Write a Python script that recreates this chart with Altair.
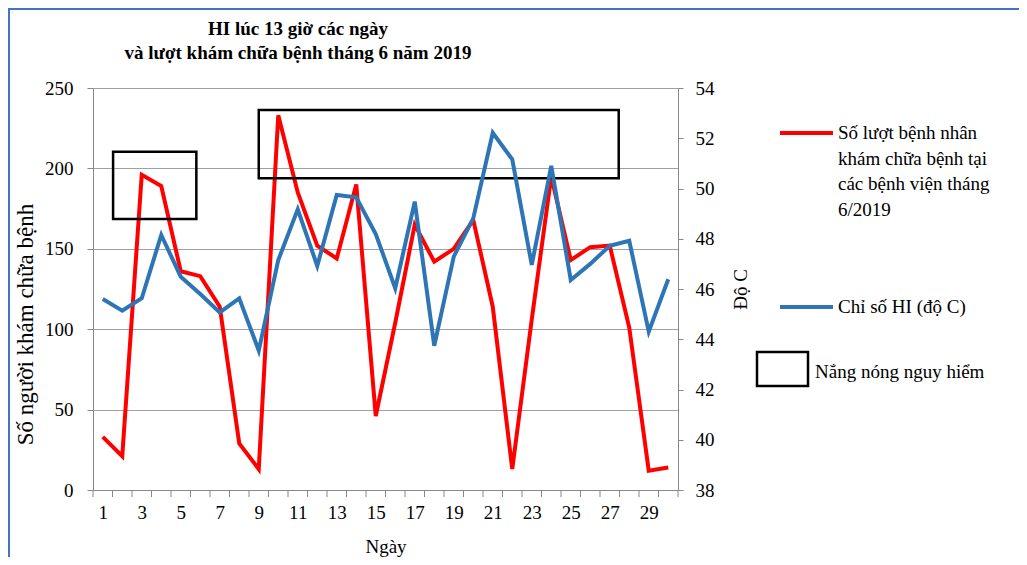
import altair as alt
import pandas as pd

# ---------------- data ----------------
days = list(range(1, 31))
patients = [33, 21, 196, 189, 136, 133, 114, 29, 13, 233, 185, 152, 144, 190, 46,
            104, 165, 142, 150, 168, 114, 13, 106, 195, 143, 151, 152, 101, 12, 14]
hi_index = [45.6, 45.14, 45.63, 48.15, 46.49, 45.8, 45.07, 45.63, 43.55, 47.15,
            49.17, 46.92, 49.74, 49.65, 48.19, 46.03, 49.48, 43.74, 47.29, 48.81,
            52.22, 51.16, 46.96, 50.9, 46.36, 47.0, 47.72, 47.92, 44.3, 46.39]

# "Nắng nóng nguy hiểm" boxes (day units / patient-axis units)
box_day_start = [1.53, 9.0]
box_day_end = [5.8, 27.46]
box_low = [168.5, 193.8]
box_high = [210.4, 236.3]

left_ticks = [0, 50, 100, 150, 200, 250]
right_ticks = [38, 40, 42, 44, 46, 48, 50, 52, 54]
x_label_days = [d for d in days if d % 2 == 1]
x_category_bounds = [k + 0.5 for k in range(31)]

title_lines = ["HI lúc 13 giờ các ngày", "và lượt khám chữa bệnh tháng 6 năm 2019"]
series_red = ["Số lượt bệnh nhân", "khám chữa bệnh tại", "các bệnh viện tháng", "6/2019"]
series_blue = "Chỉ số HI (độ C)"
box_label = "Nắng nóng nguy hiểm"

FONT = "Liberation Serif"
W, H = 585, 402

df = pd.DataFrame({"day": days, "patients": patients, "hi": hi_index})
boxes = pd.DataFrame({"x1": box_day_start, "x2": box_day_end, "y1": box_low, "y2": box_high})
bounds = pd.DataFrame({"b": x_category_bounds})
one = pd.DataFrame({"a": [0]})

xscale = alt.Scale(domain=[0.5, 30.5], nice=False, zero=False)
xaxis = alt.Axis(
    values=x_label_days, title="Ngày", grid=False, format="d", ticks=False,
    domainColor="#888888", labelOverlap=False, labelFlush=False, labelPadding=13,
    labelFont=FONT, labelFontSize=19, labelColor="black",
    titleFont=FONT, titleFontSize=19, titleFontWeight="normal", titleColor="black",
    titlePadding=15,
)

left_axis = alt.Axis(
    values=left_ticks, title="Số người khám chữa bệnh", grid=True,
    gridColor="#a0a0a0", gridWidth=1.2, domainColor="#888888", tickColor="#888888",
    tickSize=6, labelPadding=14, labelFont=FONT, labelFontSize=19, labelColor="black",
    titleFont=FONT, titleFontSize=23, titleFontWeight="normal", titleColor="black",
    titleX=-56, titleY=236,
)
yleft = alt.Scale(domain=[0, 250], nice=False)

right_axis = alt.Axis(
    values=right_ticks, title="Độ C", orient="right", grid=False,
    domainColor="#888888", tickColor="#888888", tickSize=5, labelPadding=12,
    labelFont=FONT, labelFontSize=19, labelColor="black",
    titleFont=FONT, titleFontSize=19, titleFontWeight="normal", titleColor="black",
    titleAngle=270, titleX=72, titleY=201,
)
yright = alt.Scale(domain=[38, 54], nice=False, zero=False)

red = alt.Chart(df).mark_line(color="#ff0000", strokeWidth=4).encode(
    x=alt.X("day:Q", scale=xscale, axis=xaxis),
    y=alt.Y("patients:Q", scale=yleft, axis=left_axis),
)

box_layer = alt.Chart(boxes).mark_rect(fill=None, fillOpacity=0, stroke="black", strokeWidth=2.5).encode(
    x=alt.X("x1:Q", scale=xscale, axis=xaxis),
    x2="x2:Q",
    y=alt.Y("y1:Q", scale=yleft, axis=left_axis),
    y2="y2:Q",
)

# category boundary tick marks under the x axis
x_ticks = alt.Chart(bounds).mark_rule(color="#888888", strokeWidth=1).encode(
    x=alt.X("b:Q", scale=xscale, axis=xaxis),
    y=alt.value(H), y2=alt.value(H + 7),
)

blue = alt.Chart(df).mark_line(color="#2e75b6", strokeWidth=4).encode(
    x=alt.X("day:Q", scale=xscale, axis=xaxis),
    y=alt.Y("hi:Q", scale=yright, axis=right_axis),
)

# chart title (two bold lines)
title_text = alt.Chart(one).mark_text(
    align="center", baseline="middle", font=FONT, fontSize=19, fontWeight="bold",
    lineHeight=24, color="black"
).encode(x=alt.value(205), y=alt.value(-59), text=alt.value(title_lines))

# legend (drawn as marks to the right of the plot)
leg_red_line = alt.Chart(one).mark_rule(color="#ff0000", strokeWidth=4).encode(
    x=alt.value(687), x2=alt.value(740), y=alt.value(45))
leg_red_text = alt.Chart(one).mark_text(
    align="left", baseline="middle", font=FONT, fontSize=19, lineHeight=25.5, color="black"
).encode(x=alt.value(745), y=alt.value(45), text=alt.value(series_red))
leg_blue_line = alt.Chart(one).mark_rule(color="#2e75b6", strokeWidth=4).encode(
    x=alt.value(687), x2=alt.value(740), y=alt.value(219))
leg_blue_text = alt.Chart(one).mark_text(
    align="left", baseline="middle", font=FONT, fontSize=19, color="black"
).encode(x=alt.value(745), y=alt.value(219), text=alt.value(series_blue))
leg_box = alt.Chart(one).mark_rect(fill="white", stroke="black", strokeWidth=2.5).encode(
    x=alt.value(664), x2=alt.value(715), y=alt.value(264), y2=alt.value(298))
leg_box_text = alt.Chart(one).mark_text(
    align="left", baseline="middle", font=FONT, fontSize=19, color="black"
).encode(x=alt.value(722), y=alt.value(284), text=alt.value(box_label))

# outer frame (top and left edges visible in the window)
frame_top = alt.Chart(one).mark_rule(color="#4472c4", strokeWidth=2).encode(
    x=alt.value(-85), x2=alt.value(926), y=alt.value(-79))
frame_left = alt.Chart(one).mark_rule(color="#4472c4", strokeWidth=2).encode(
    x=alt.value(-84), y=alt.value(-79), y2=alt.value(470))

left_group = alt.layer(red, box_layer, x_ticks, title_text, leg_red_line, leg_red_text,
                       leg_blue_line, leg_blue_text, leg_box, leg_box_text,
                       frame_top, frame_left)

chart = alt.layer(left_group, blue).resolve_scale(y="independent").properties(
    width=W, height=H,
    autosize=alt.AutoSizeParams(type="none"),
    padding={"left": 85, "top": 80, "right": 341, "bottom": 67},
).configure_view(stroke=None).configure(background="white", font=FONT).configure_axis(
    labelFont=FONT, titleFont=FONT
).configure_text(font=FONT)

chart.save("out.html", embed_options={"renderer": "svg", "actions": False})
